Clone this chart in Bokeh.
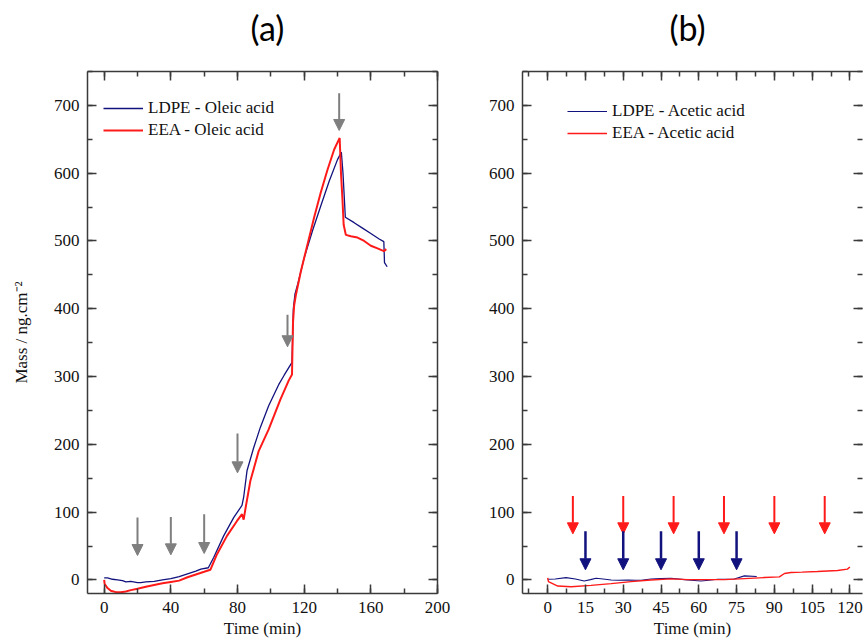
from bokeh.plotting import figure
from bokeh.models import (LinearAxis, SingleIntervalTicker, Range1d, Arrow, NormalHead,
                          ColumnDataSource, Legend, LegendItem, Title, CustomLabelingPolicy)
from bokeh.layouts import row, column
from bokeh.embed import file_html
from bokeh.resources import INLINE

# ---------------- data: panel (a) oleic acid ----------------
ldpe_oleic_t = [0, 2, 5, 8, 11, 13, 16, 20, 22, 25, 30, 35, 40, 45, 50, 55, 58, 62.5,
                65.7, 71.7, 77.7, 82.7, 83.7, 85.7, 89.7, 93.7, 98.7, 104.7, 108, 112.7,
                113.5, 114.5, 116, 120, 125, 130, 135, 140, 142.3, 143.3, 144.7, 150,
                155, 160, 165, 167.8, 168.2, 169.8]
ldpe_oleic_m = [3, 3, 1, 0, -1, -3, -2, -4, -4, -3, -2, 0, 2, 5, 9, 13, 16, 18,
                33, 65, 92, 110, 122, 161, 195, 225, 257, 288, 302, 321,
                400, 422, 435, 475, 515, 552, 588, 620, 631, 600, 535, 527,
                519, 511, 503, 499, 468, 462]

eea_oleic_t = [0, 0.3, 2, 4, 7, 10, 13, 16, 20, 25, 30, 35, 40, 45, 50, 55, 60, 63.7,
               67.7, 73.7, 79.7, 82.7, 83.7, 84.7, 87.7, 92.7, 98.7, 105.7, 110.7, 112.7,
               113.3, 114, 115, 118, 122, 126, 130, 134, 138, 141.3, 142.1, 143, 143.7,
               145, 148, 152, 156, 160, 164, 167.8, 169.3]
eea_oleic_m = [0, -6, -12, -16, -18, -18, -17, -15, -13, -10, -7.5, -5, -3, -1, 4, 8, 12, 15,
               38, 65, 87, 97, 89, 104, 146, 190, 222, 266, 294, 303,
               380, 405, 420, 455, 495, 535, 572, 605, 635, 652, 600, 560, 524,
               509, 507, 505, 500, 493, 489, 485, 488]

# ---------------- data: panel (b) acetic acid ----------------
ldpe_acetic_t = [0, 3, 7.3, 11, 14.5, 17, 19.2, 22, 25.2, 28, 31.8, 35, 37.1, 41, 45,
                 49, 54.3, 57, 60.9, 64, 67.5, 71, 74.1, 78.1, 83]
ldpe_acetic_m = [1, 1.5, 3.4, 1.5, -1.5, 0.5, 2.5, 1.5, 0, -0.5, 0, -0.5, -0.5, 1.5, 2,
                 2.5, 0.5, -0.5, -1.5, -0.5, 1, 1, 1.5, 6, 5]

eea_acetic_t = [0, 0.3, 4, 9.3, 17.2, 25.2, 33.1, 41, 49, 55.6, 62.2, 70.2, 78.1, 86,
                92, 94, 96.6, 101, 107.1, 115.1, 119, 120]
eea_acetic_m = [3, -2.5, -9, -10, -8, -5.5, -2.5, 0, 1.5, 0.5, 0.5, 0.5, 2, 3.5,
                4.5, 9.5, 11, 11.5, 12.5, 14, 16, 19]

# ---------------- arrows (injection times) ----------------
arrows_a_t = [20, 40, 60, 80, 110, 141]
arrows_a_top = [92, 93, 97, 216, 391, 718]
arrows_a_tip = [36, 37, 39, 158, 344, 663]

arrows_b_red_t = [10, 30, 50, 70, 90, 110]
arrows_b_red_top = [124, 124, 124, 124, 124, 124]
arrows_b_red_tip = [68, 68, 68, 68, 68, 68]

arrows_b_blue_t = [15, 30, 45, 60, 75]
arrows_b_blue_top = [72, 72, 72, 72, 72]
arrows_b_blue_tip = [15, 15, 15, 15, 15]

panel_titles = ["(a)", "(b)"]

SERIF = "Liberation Serif"
AX = "#3a3a3a"
BLUE = "#12127e"
RED = "#ff1a1a"
GRAY = "#7f7f7f"
TITLE_H = 60

NO_LABELS = CustomLabelingPolicy(code="""
for (const i of Array.from(indices)) indices.unset(i)
return indices
""")


def style_axis(ax, labels=True, line=True):
    ax.axis_line_color = AX if line else None
    ax.axis_line_width = 1.5
    ax.major_tick_line_color = AX
    ax.minor_tick_line_color = AX
    ax.major_tick_line_width = 1.5
    ax.minor_tick_line_width = 1.5
    ax.major_tick_in = 9
    ax.major_tick_out = 0
    ax.minor_tick_in = 5
    ax.minor_tick_out = 0
    ax.major_label_text_font = SERIF
    ax.major_label_text_color = "#111111"
    if labels:
        ax.major_label_text_font_size = "17px"
        ax.major_label_standoff = 8
    else:
        ax.major_label_text_font_size = "0px"
        ax.major_label_standoff = 0
        ax.major_label_policy = NO_LABELS
    ax.axis_label_text_font = SERIF
    ax.axis_label_text_font_size = "17px"
    ax.axis_label_text_font_style = "normal"
    ax.axis_label_text_color = "#111111"


def make_fig(frame_w, x_end, xint, mbl, mbr):
    p = figure(frame_width=frame_w, frame_height=522,
               x_range=Range1d(-10, x_end), y_range=Range1d(-20, 750),
               output_backend="svg", toolbar_location=None,
               min_border_left=mbl, min_border_right=mbr,
               min_border_top=71 - TITLE_H, min_border_bottom=47,
               x_axis_location=None, y_axis_location=None)
    p.outline_line_color = None
    p.background_fill_color = "white"
    p.border_fill_color = "white"
    p.xgrid.visible = False
    p.ygrid.visible = False
    xt = SingleIntervalTicker(interval=xint, num_minor_ticks=2)
    yt = SingleIntervalTicker(interval=100, num_minor_ticks=2)
    return p, xt, yt


def title_fig(text, width, mbl, mbr):
    t = figure(width=width, height=TITLE_H, output_backend="svg", toolbar_location=None,
               min_border_left=mbl, min_border_right=mbr, min_border_top=0,
               min_border_bottom=0, x_axis_location=None, y_axis_location=None)
    t.outline_line_color = None
    t.xgrid.visible = False
    t.ygrid.visible = False
    t.title = Title(text=text, align="center", text_font="Lato", text_font_size="34px",
                    text_font_style="normal", text_color="#000000", standoff=9)
    return t


# ---------------- panel (a) ----------------
pa, xta, yta = make_fig(350, 200, 40, 87, 41)
bx = LinearAxis(ticker=xta, axis_label="Time (min)")
style_axis(bx)
bx.axis_label_standoff = 3
pa.add_layout(bx, "below")
tx = LinearAxis(ticker=xta)
style_axis(tx, labels=False)
pa.add_layout(tx, "above")
ly = LinearAxis(ticker=yta, axis_label="Mass / ng.cm⁻²")
style_axis(ly)
ly.axis_label_standoff = 20
pa.add_layout(ly, "left")
ry = LinearAxis(ticker=yta)
style_axis(ry, labels=False)
pa.add_layout(ry, "right")

ra1 = pa.line(ldpe_oleic_t, ldpe_oleic_m, line_color=BLUE, line_width=1.3)
ra2 = pa.line(eea_oleic_t, eea_oleic_m, line_color=RED, line_width=2)

src_a = ColumnDataSource(dict(x=arrows_a_t, y0=arrows_a_top, y1=arrows_a_tip))
pa.add_layout(Arrow(x_start="x", y_start="y0", x_end="x", y_end="y1", source=src_a,
                    line_color=GRAY, line_width=2,
                    end=NormalHead(size=11, fill_color=GRAY, line_color=GRAY, line_width=1)))

leg_a = Legend(items=[LegendItem(label="LDPE - Oleic acid", renderers=[ra1]),
                      LegendItem(label="EEA - Oleic acid", renderers=[ra2])],
               location=(16, 452))
pa.add_layout(leg_a, "center")

# ---------------- panel (b) ----------------
pb, xtb, ytb = make_fig(340, 125, 15, 44, 3)
bxb = LinearAxis(ticker=xtb, axis_label="Time (min)")
style_axis(bxb)
bxb.axis_label_standoff = 3
pb.add_layout(bxb, "below")
txb = LinearAxis(ticker=xtb)
style_axis(txb, labels=False)
pb.add_layout(txb, "above")
lyb = LinearAxis(ticker=ytb)
style_axis(lyb)
pb.add_layout(lyb, "left")
ryb = LinearAxis(ticker=ytb)
style_axis(ryb, labels=False, line=False)
pb.add_layout(ryb, "right")

rb1 = pb.line(ldpe_acetic_t, ldpe_acetic_m, line_color=BLUE, line_width=1.1)
rb2 = pb.line(eea_acetic_t, eea_acetic_m, line_color=RED, line_width=1.4)

src_br = ColumnDataSource(dict(x=arrows_b_red_t, y0=arrows_b_red_top, y1=arrows_b_red_tip))
pb.add_layout(Arrow(x_start="x", y_start="y0", x_end="x", y_end="y1", source=src_br,
                    line_color=RED, line_width=2,
                    end=NormalHead(size=11, fill_color=RED, line_color=RED, line_width=1)))
src_bb = ColumnDataSource(dict(x=arrows_b_blue_t, y0=arrows_b_blue_top, y1=arrows_b_blue_tip))
pb.add_layout(Arrow(x_start="x", y_start="y0", x_end="x", y_end="y1", source=src_bb,
                    line_color=BLUE, line_width=2.5,
                    end=NormalHead(size=11, fill_color=BLUE, line_color=BLUE, line_width=1)))

leg_b = Legend(items=[LegendItem(label="LDPE - Acetic acid", renderers=[rb1]),
                      LegendItem(label="EEA - Acetic acid", renderers=[rb2])],
               location=(45, 449))
pb.add_layout(leg_b, "center")

for leg in (leg_a, leg_b):
    leg.border_line_color = None
    leg.background_fill_alpha = 0
    leg.padding = 0
    leg.margin = 0
    leg.spacing = 0
    leg.glyph_width = 40
    leg.glyph_height = 22
    leg.label_height = 22
    leg.label_standoff = 5
    leg.label_text_font = SERIF
    leg.label_text_font_size = "17px"
    leg.label_text_color = "#111111"

ta = title_fig(panel_titles[0], 478, 92, 36)
tb = title_fig(panel_titles[1], 387, 44, 13)

layout = column(row(ta, tb), row(pa, pb))
open("out.html", "w").write(file_html(layout, INLINE))
